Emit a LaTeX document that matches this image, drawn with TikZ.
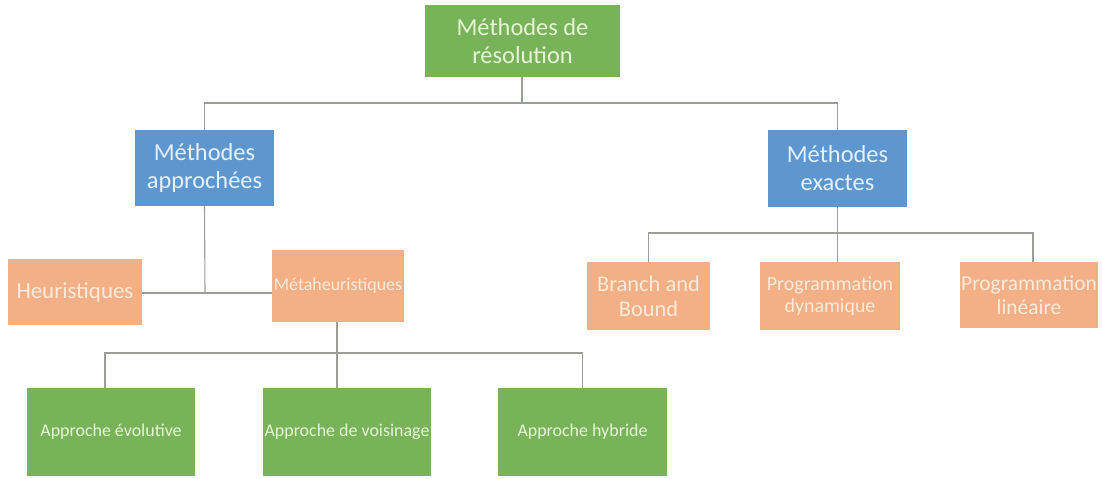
\documentclass[tikz,border=0pt]{standalone}
\usepackage{fontspec}
\setmainfont{Carlito}
\definecolor{boxgreen}{HTML}{78B35A}
\definecolor{boxblue}{HTML}{5E97CF}
\definecolor{boxorange}{HTML}{F3B087}
\definecolor{txtgreen}{HTML}{E6F4D6}
\definecolor{txtblue}{HTML}{E4F0FC}
\definecolor{txtorange}{HTML}{FCEADB}
\definecolor{linkgray}{HTML}{9C9E9A}
\tikzset{
  box/.style={rectangle, inner sep=0pt, align=center, anchor=center},
  greenbox/.style={box, fill=boxgreen, text=txtgreen},
  bluebox/.style={box, fill=boxblue, text=txtblue},
  orangebox/.style={box, fill=boxorange, text=txtorange},
  link/.style={draw=linkgray, line width=1.1bp},
}
\begin{document}
\begin{tikzpicture}[x=1bp, y=-1bp]
\useasboundingbox[fill=white] (0,0) rectangle (1102,479);

% root
\node[greenbox, minimum width=195bp, minimum height=72bp, font=\fontsize{24.5}{28}\selectfont]
  (root) at (522.5,41) {Méthodes de\\résolution};

% second level
\node[bluebox, minimum width=139bp, minimum height=76bp, font=\fontsize{24.5}{28}\selectfont]
  (appr) at (204.5,168) {Méthodes\\approchées};
\node[bluebox, minimum width=139bp, minimum height=77bp, font=\fontsize{24.5}{28}\selectfont]
  (exac) at (837.5,168.5) {Méthodes\\exactes};

% approximate methods
\node[orangebox, minimum width=134bp, minimum height=66bp, font=\fontsize{23}{26}\selectfont]
  (heur) at (75,292) {Heuristiques};
\node[orangebox, minimum width=132bp, minimum height=72bp, font=\fontsize{18}{21}\selectfont]
  (meta) at (338,286) {Métaheuristiques};

% exact methods
\node[orangebox, minimum width=123bp, minimum height=68bp, font=\fontsize{22.5}{25}\selectfont]
  (bb) at (648.5,296) {Branch and\\Bound};
\node[orangebox, minimum width=140bp, minimum height=68bp, font=\fontsize{20}{22}\selectfont]
  (pd) at (830,296) {Programmation\\dynamique};
\node[orangebox, minimum width=138bp, minimum height=66bp, font=\fontsize{21.5}{24}\selectfont]
  (pl) at (1029,295) {Programmation\\linéaire};

% metaheuristic families
\node[greenbox, minimum width=168bp, minimum height=88bp, font=\fontsize{18}{21}\selectfont]
  (evo) at (111,432) {Approche évolutive};
\node[greenbox, minimum width=168bp, minimum height=88bp, font=\fontsize{18}{21}\selectfont]
  (vois) at (347,432) {Approche de voisinage};
\node[greenbox, minimum width=169bp, minimum height=88bp, font=\fontsize{18}{21}\selectfont]
  (hyb) at (582.5,432) {Approche hybride};

% bus lines
\coordinate (busA) at (522,103);
\coordinate (busE) at (837.5,233);
\coordinate (busM) at (337,353);
\coordinate (jH) at (205,293);

\draw[link] (root.south -| busA) -- (busA);
\draw[link] (appr.north) |- (busA);
\draw[link] (exac.north) |- (busA);

\draw[link] (appr.south) -- (jH);
\draw[link] (heur.east |- jH) -- (meta.west |- jH);

\draw[link] (exac.south) -- (busE);
\draw[link] (bb.north) |- (busE);
\draw[link] (pd.north -| busE) -- (busE);
\draw[link] ([xshift=4bp]pl.north) |- (busE);

\draw[link] (meta.south -| busM) -- (busM);
\draw[link] ([xshift=-6bp]evo.north) |- (busM);
\draw[link] (vois.north -| busM) -- (busM);
\draw[link] (hyb.north) |- (busM);
\end{tikzpicture}
\end{document}
